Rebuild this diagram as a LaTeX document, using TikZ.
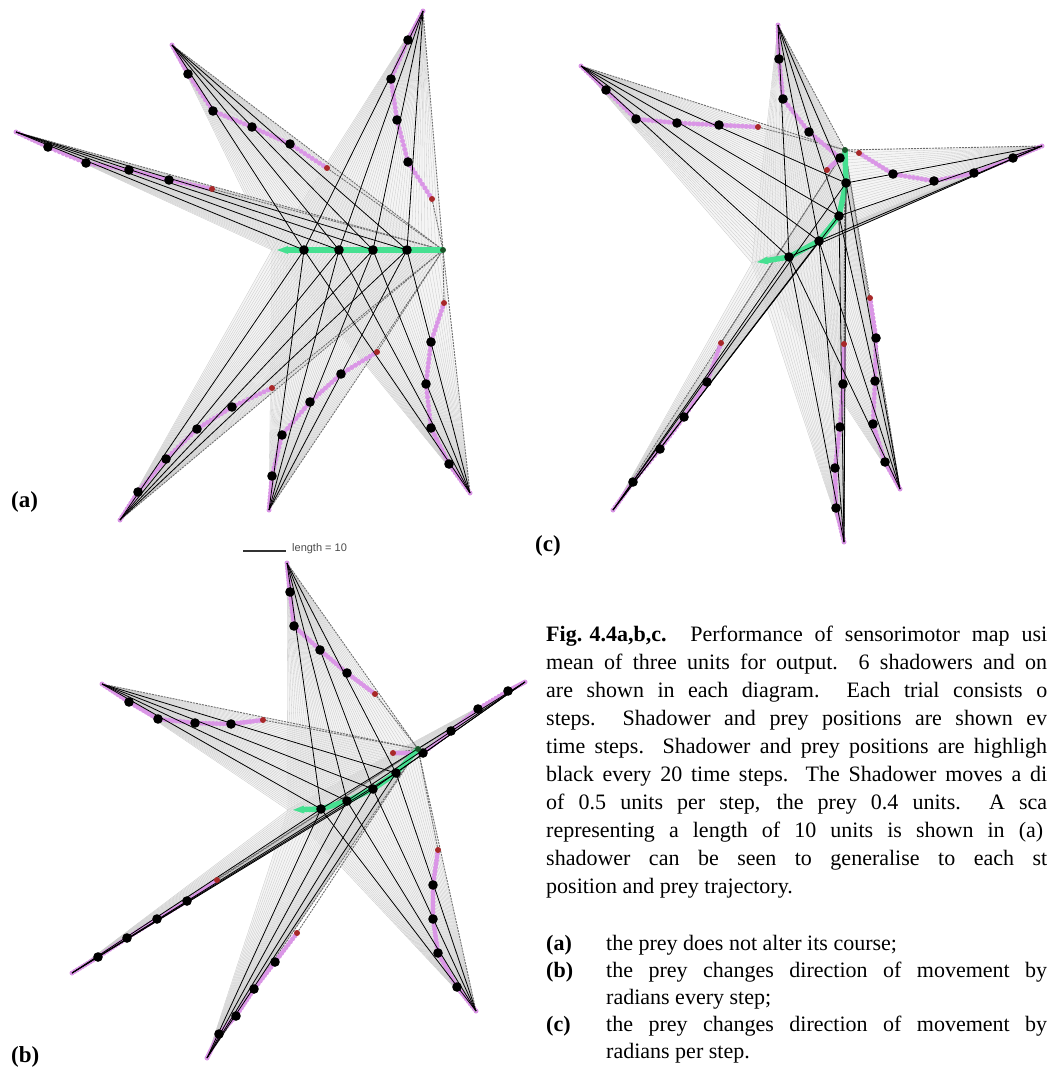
\documentclass[tikz,border=0pt]{standalone}
\usepackage{fontspec}
\setmainfont{Liberation Serif}
\newfontfamily\barfont{Liberation Sans}
\usetikzlibrary{calc,arrows.meta}
\definecolor{pinkdot}{RGB}{218,150,230}
\definecolor{reddot}{RGB}{168,40,40}
\definecolor{greenpath}{RGB}{70,224,145}
\definecolor{darkgreen}{RGB}{25,85,40}
\definecolor{raygray}{RGB}{200,200,200}
\definecolor{edgegray}{RGB}{110,110,110}
\tikzset{
  fanfill/.style={fill=black!7, fill opacity=0.55},
  ray/.style={draw=raygray, line width=0.3pt},
  edgeline/.style={draw=edgegray, line width=0.9pt, dash pattern=on 2pt off 1pt},
  blk/.style={draw=black, line width=0.8pt},
  greenline/.style={draw=greenpath, line width=5.5pt, {Triangle[length=16pt,width=6pt]}-},
  capline/.style={anchor=base west, inner sep=0pt, font=\fontsize{22}{28}\selectfont},
  lbl/.style={anchor=base west, inner sep=0pt, font=\fontsize{23}{27}\selectfont\bfseries},
}
% centre (prey) path: prefix, c0..c5
\newcommand\setcentre[7]{%
  \coordinate (#1c0) at #2; \coordinate (#1c1) at #3; \coordinate (#1c2) at #4;
  \coordinate (#1c3) at #5; \coordinate (#1c4) at #6; \coordinate (#1c5) at #7;}
% trajectory: prefix, index, tip, d1..d4, start
\newcommand\settraj[8]{%
  \coordinate (#1t#2p0) at #3; \coordinate (#1t#2p1) at #4; \coordinate (#1t#2p2) at #5;
  \coordinate (#1t#2p3) at #6; \coordinate (#1t#2p4) at #7; \coordinate (#1t#2p5) at #8;}
\newcommand\layerfan[2]{%
  \fill[fanfill] (#1t#2p0) -- (#1c0) -- (#1c1) -- (#1c2) -- (#1c3) -- (#1c4) -- (#1c5) -- cycle;
  \foreach \sa/\sb in {0/1,1/2,2/3,3/4,4/5}{%
    \foreach \jj in {0,...,9}{%
      \draw[ray] (#1t#2p0) -- ($(#1c\sa)!\jj/10!(#1c\sb)$);}}}
\newcommand\layeredge[2]{%
  \draw[edgeline] (#1t#2p0) -- (#1c5);
  \draw[edgeline] (#1t#2p5) -- (#1c5);}
\newcommand\layerpink[2]{%
  \foreach \sa/\sb in {0/1,1/2,2/3,3/4,4/5}{%
    \foreach \jj in {0,...,9}{%
      \fill[pinkdot] ($(#1t#2p\sa)!\jj/10!(#1t#2p\sb)$) circle (2.5pt);}}
  \fill[pinkdot] (#1t#2p5) circle (2.5pt);}
\newcommand\layerblack[2]{%
  \foreach \ii in {1,...,4}{\draw[blk] (#1t#2p0) -- (#1c\ii);}}
\newcommand\layerdots[2]{%
  \foreach \ii in {1,...,4}{\fill[black] (#1t#2p\ii) circle (4.8pt);}
  \fill[reddot] (#1t#2p5) circle (3pt);}
\newcommand\layergreen[1]{%
  \draw[greenline] (#1c0) -- (#1c1) -- (#1c2) -- (#1c3) -- (#1c4) -- (#1c5);}
\newcommand\layercdots[1]{%
  \foreach \ii in {1,...,4}{\fill[black] (#1c\ii) circle (4.8pt);}
  \fill[darkgreen] (#1c5) circle (3pt);}

\begin{document}
\begin{tikzpicture}[x=1pt,y=-1pt]
\useasboundingbox[fill=white] (0,0) rectangle (1047,1084);
% ---------------- diagram (a)
\setcentre{a}{(272,250)}{(304,250)}{(339,250)}{(373,250)}{(407,250)}{(443,250)}
\settraj{a}{1}{(16,132)}{(48,147)}{(86,163)}{(129,170)}{(169,180)}{(212,189)}
\settraj{a}{2}{(172,45)}{(188,74)}{(213,111)}{(252,127)}{(290,144)}{(327,168)}
\settraj{a}{3}{(423,11)}{(408,40)}{(391,79)}{(397,120)}{(408,162)}{(432,199)}
\settraj{a}{4}{(470,493)}{(449,464)}{(431,428)}{(426,384)}{(431,342)}{(444,303)}
\settraj{a}{5}{(269,510)}{(272,476)}{(282,435)}{(310,402)}{(341,374)}{(377,352)}
\settraj{a}{6}{(120,520)}{(138,492)}{(166,459)}{(197,429)}{(232,407)}{(272,388)}
% ---------------- diagram (c)
\setcentre{c}{(752,263)}{(789,257)}{(819,241)}{(839,216)}{(846,183)}{(845,150)}
\settraj{c}{1}{(581,66)}{(606,90)}{(636,119)}{(677,123)}{(719,125)}{(758,127)}
\settraj{c}{2}{(778,25)}{(779,59)}{(783,99)}{(809,132)}{(840,158)}{(827,170)}
\settraj{c}{3}{(1042,146)}{(1013,158)}{(974,173)}{(934,181)}{(893,174)}{(859,153)}
\settraj{c}{4}{(900,489)}{(885,462)}{(873,424)}{(875,381)}{(876,338)}{(870,298)}
\settraj{c}{5}{(844,542)}{(836,508)}{(835,468)}{(840,427)}{(843,384)}{(844,344)}
\settraj{c}{6}{(613,510)}{(633,482)}{(660,449)}{(684,417)}{(707,382)}{(721,343)}
% ---------------- diagram (b)
\setcentre{b}{(288,810)}{(321,809)}{(347,801)}{(373,789)}{(396,773)}{(418,749)}
\settraj{b}{1}{(287,563)}{(290,592)}{(294,626)}{(320,650)}{(347,673)}{(375,694)}
\settraj{b}{2}{(102,684)}{(129,702)}{(158,719)}{(195,723)}{(231,724)}{(263,720)}
\settraj{b}{3}{(525,682)}{(508,691)}{(478,709)}{(451,731)}{(423,753)}{(393,753)}
\settraj{b}{4}{(476,1011)}{(457,987)}{(438,953)}{(433,919)}{(433,885)}{(438,850)}
\settraj{b}{5}{(207,1058)}{(219,1034)}{(236,1016)}{(254,989)}{(275,962)}{(297,933)}
\settraj{b}{6}{(72,973)}{(98,957)}{(127,938)}{(157,919)}{(187,901)}{(217,880)}

\foreach \dg in {a,b,c}{\foreach \kk in {1,...,6}{\layerfan{\dg}{\kk}}}
\foreach \dg in {a,b,c}{\foreach \kk in {1,...,6}{\layeredge{\dg}{\kk}}}
\foreach \dg in {a,b,c}{\foreach \kk in {1,...,6}{\layerpink{\dg}{\kk}}}
\foreach \dg in {a,b,c}{\layergreen{\dg}}
\foreach \dg in {a,b,c}{\foreach \kk in {1,...,6}{\layerblack{\dg}{\kk}}}
\foreach \dg in {a,b,c}{\foreach \kk in {1,...,6}{\layerdots{\dg}{\kk}}}
\foreach \dg in {a,b,c}{\layercdots{\dg}}

% scale bar
\coordinate (sb1) at (243,551);
\coordinate (sb2) at (286,551);
\draw[line width=1.1pt, black!80] (sb1) -- (sb2);
\node[anchor=west, inner sep=0pt, font=\barfont\fontsize{11}{12}\selectfont, text=black!70] (sbt) at (292,549) {length = 10};

% panel labels
\node[lbl] (la) at (11,507) {(a)};
\node[lbl] (lc) at (535,551) {(c)};
\node[lbl] (lb) at (11,1062) {(b)};

% caption
\node[capline] (l1) at (546,641) {\makebox[501pt][s]{\mbox{\textbf{Fig. 4.4a,b,c.}}\ \ Performance of sensorimotor map usi}};
\node[capline] (l2) at (546,669) {\makebox[501pt][s]{mean of three units for output.\ \ 6 shadowers and on}};
\node[capline] (l3) at (546,697) {\makebox[501pt][s]{are shown in each diagram.\ \ Each trial consists o}};
\node[capline] (l4) at (546,725) {\makebox[501pt][s]{steps.\ \ Shadower and prey positions are shown ev}};
\node[capline] (l5) at (546,753) {\makebox[501pt][s]{time steps. Shadower and prey positions are highligh}};
\node[capline] (l6) at (546,781) {\makebox[501pt][s]{black every 20 time steps. The Shadower moves a di}};
\node[capline] (l7) at (546,809) {\makebox[501pt][s]{of 0.5 units per step, the prey 0.4 units.\ \ A sca}};
\node[capline] (l8) at (546,837) {\makebox[497pt][s]{representing a length of 10 units is shown in (a)}};
\node[capline] (l9) at (546,865) {\makebox[501pt][s]{shadower can be seen to generalise to each st}};
\node[capline] (l10) at (546,893) {position and prey trajectory.};
\node[capline] (ia) at (546,950) {\textbf{(a)}};
\node[capline] (ta) at (606,950) {the prey does not alter its course;};
\node[capline] (ib) at (546,977) {\textbf{(b)}};
\node[capline] (tb) at (606,977) {\makebox[441pt][s]{the prey changes direction of movement by}};
\node[capline] (tb2) at (606,1004) {radians every step;};
\node[capline] (ic) at (546,1031) {\textbf{(c)}};
\node[capline] (tc) at (606,1031) {\makebox[441pt][s]{the prey changes direction of movement by}};
\node[capline] (tc2) at (606,1058) {radians per step.};
\end{tikzpicture}
\end{document}
